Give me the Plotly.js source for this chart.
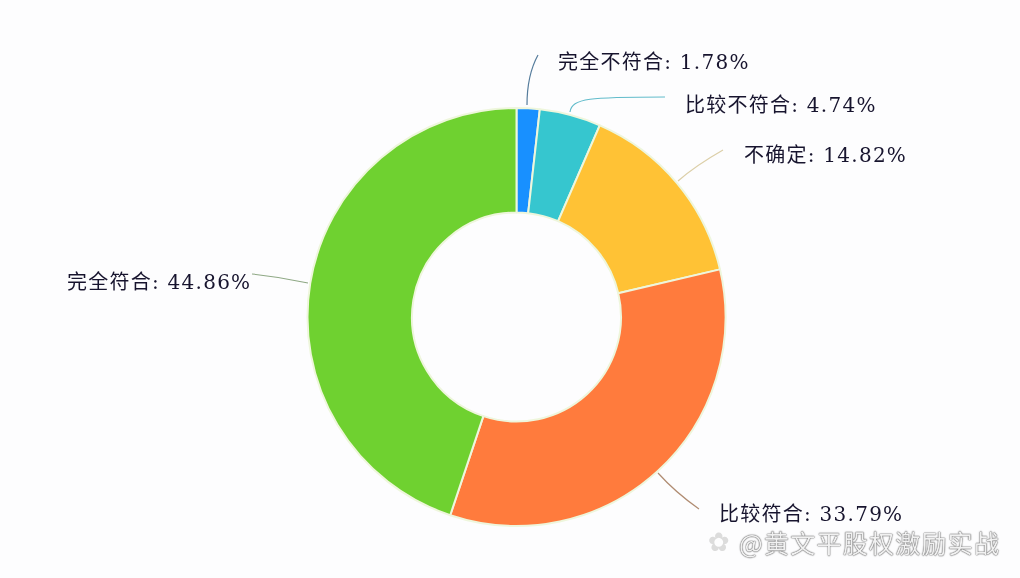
<!DOCTYPE html>
<html><head><meta charset="utf-8">
<script src="https://cdn.plot.ly/plotly-3.0.1.min.js"></script>
<style>html,body{margin:0;padding:0;background:#fdfdfe}#c{width:1020px;height:578px;filter:blur(0.4px)}
.annotation-text{letter-spacing:1.25px}</style></head>
<body><div id="c"></div>
<script>
const categories=["完全不符合","比较不符合","不确定","比较符合","完全符合"];
const shares=[1.78,4.74,14.82,33.79,44.86];
const colors=["#1890ff","#36c6cf","#ffc235","#ff7b3d","#6fd130"];
const leaderColors=["#557c9c","#62bccb","#dccfa8","#b08c72","#8ea884"];
const labelTexts=categories.map((c,i)=>c+": "+shares[i].toFixed(2)+"%");
const labelPlaces=[[557,62],[684,105],[743,155],[718,514],[66,282]];
const leaderPaths=[
 [[527,105],[527,75],[538,55]],
 [[570,112],[572,98],[590,97],[665,97]],
 [[678,181],[695,166],[723,150]],
 [[658,473],[675,492],[699,509]],
 [[308,283],[280,277],[252,274]]];
const F='"DejaVu Serif","Noto Sans CJK SC","Noto Sans",sans-serif';
const X=p=>p/1020, Y=p=>1-p/578;
function pathOf(pts){
  const s=pts.map(q=>X(q[0]).toFixed(5)+","+Y(q[1]).toFixed(5));
  if(pts.length===4) return "M"+s[0]+" C"+s[1]+" "+s[2]+" "+s[3];
  return "M"+s[0]+" Q"+s[1]+" "+s[2];
}
const annotations=labelTexts.map((t,i)=>({xref:"paper",yref:"paper",x:X(labelPlaces[i][0]),y:Y(labelPlaces[i][1]),xanchor:"left",yanchor:"middle",xshift:-1,text:t,showarrow:false,font:{family:F,size:20,color:"#17142e"}}));
const shapes=leaderPaths.map((l,i)=>({type:"path",xref:"paper",yref:"paper",path:pathOf(l),line:{color:leaderColors[i],width:1.2}}));
const ghost={family:'"Noto Sans CJK SC",sans-serif',size:25,color:"#f1f1f1",shadow:"0 0 1.5px #444, 0 0 1px #555"};
annotations.push({xref:"paper",yref:"paper",x:X(1002),y:Y(542),xanchor:"right",yanchor:"middle",text:"@黄文平股权激励实战",showarrow:false,font:ghost});
annotations.push({xref:"paper",yref:"paper",x:X(719),y:Y(542),xanchor:"center",yanchor:"middle",text:"✿",showarrow:false,font:{family:'"DejaVu Sans"',size:26,color:"#dcdcdc"}});
Plotly.newPlot("c",[{type:"pie",labels:categories,values:shares,hole:0.5,sort:false,direction:"clockwise",rotation:0,textinfo:"none",hoverinfo:"label+percent",marker:{colors:colors,line:{color:"#eef6dc",width:2}},domain:{x:[X(307.5),X(725.5)],y:[Y(527),Y(107)]}}],
{width:1020,height:578,margin:{l:0,r:0,t:0,b:0},paper_bgcolor:"#fdfdfe",showlegend:false,annotations,shapes},{displayModeBar:false});
</script></body></html>
